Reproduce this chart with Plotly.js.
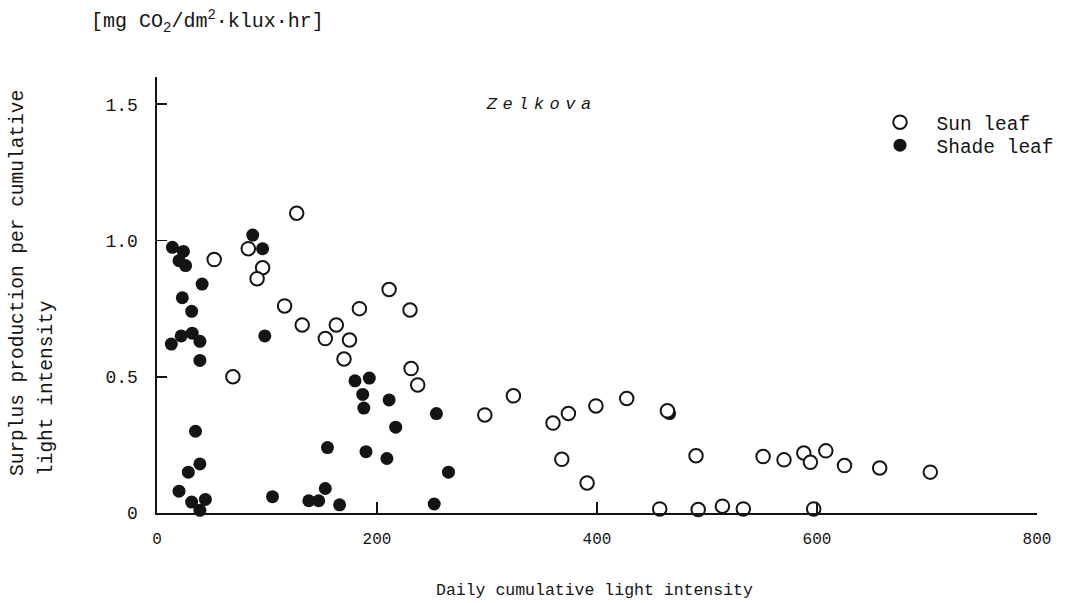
<!DOCTYPE html>
<html>
<head>
<meta charset="utf-8">
<script src="https://cdn.plot.ly/plotly-3.0.1.min.js"></script>
<style>
  html, body { margin: 0; padding: 0; background: #ffffff; }
  #chart { width: 1065px; height: 603px; }
  .annotation[data-index="0"] text.annotation-text { letter-spacing: 5.5px; }
</style>
</head>
<body>
<div id="chart"></div>
<script>
// Sun leaves: daily cumulative light intensity vs. surplus production
const sunX = [127, 52, 83, 96, 91, 69, 116, 132, 153, 163, 170, 211, 184, 230, 175,
              231, 237, 298, 324, 360, 374, 368, 391, 399, 427, 464, 490, 551, 570,
              588, 594, 608, 625, 657, 703, 457, 492, 514, 533, 597];
const sunY = [1.10, 0.93, 0.97, 0.90, 0.86, 0.50, 0.76, 0.69, 0.64, 0.69, 0.565, 0.82,
              0.75, 0.745, 0.635, 0.53, 0.47, 0.36, 0.43, 0.33, 0.365, 0.197, 0.11,
              0.393, 0.42, 0.375, 0.21, 0.207, 0.195, 0.22, 0.186, 0.228, 0.174, 0.165,
              0.15, 0.015, 0.013, 0.025, 0.015, 0.015];

// Shade leaves
const shadeX = [15, 14, 24, 20, 26, 87, 96, 41, 23, 31.5, 13, 22, 32, 39, 39, 98, 35,
                39, 28.5, 20, 31.5, 44, 39, 105, 138, 147, 153, 155, 166, 180, 193, 187,
                188, 211, 254, 217, 190, 209, 265, 252, 466];
const shadeY = [1.61, 0.975, 0.96, 0.926, 0.908, 1.02, 0.97, 0.84, 0.79, 0.74, 0.62,
                0.65, 0.66, 0.63, 0.56, 0.65, 0.30, 0.18, 0.15, 0.08, 0.04, 0.05, 0.01,
                0.06, 0.045, 0.045, 0.09, 0.24, 0.03, 0.485, 0.495, 0.435, 0.385, 0.415,
                0.365, 0.315, 0.225, 0.20, 0.15, 0.033, 0.365];

const xTickVals = [0, 200, 400, 600, 800];
const xTickText = ['0', '200', '400', '600', '800'];
const yTickVals = [0, 0.5, 1.0, 1.5];
const yTickText = ['0', '0.5', '1.0', '1.5'];

const seriesNames = ['Sun leaf', 'Shade leaf'];
const speciesName = 'Zelkova';
const unitLabel = '[mg CO<sub>2</sub>/dm<sup>2</sup>\u00b7klux\u00b7hr]';
const xTitle = 'Daily cumulative light intensity';
const yTitleLines = ['Surplus production per cumulative', 'light intensity'];

// Page geometry of the plotting area (pixels)
const W = 1065, H = 603;
const M = { l: 157, r: 28, t: 77, b: 90, autoexpand: false };
const plotW = W - M.l - M.r, plotH = H - M.t - M.b;
const px = v => (v - M.l) / plotW;          // page x -> paper x
const py = v => (H - M.b - v) / plotH;      // page y -> paper y

const INK = '#141414';
const MONO = 'Liberation Mono, Cousine, monospace';

const legendStyle = top => ({
  x: px(863.5), y: py(top), xanchor: 'left', yanchor: 'top',
  bgcolor: 'rgba(0,0,0,0)', borderwidth: 0,
  font: { family: MONO, size: 19.5, color: INK },
  itemwidth: 63
});

const traces = [
  {
    type: 'scatter', mode: 'markers', name: seriesNames[1],
    x: shadeX, y: shadeY, legend: 'legend2', cliponaxis: false,
    marker: { symbol: 'circle', size: 13, color: INK, line: { width: 0 } }
  },
  {
    type: 'scatter', mode: 'markers', name: seriesNames[0],
    x: sunX, y: sunY, legend: 'legend', cliponaxis: false,
    marker: { symbol: 'circle', size: 13.5, color: '#ffffff', line: { width: 2, color: INK } }
  }
];

const layout = {
  width: W, height: H,
  margin: M,
  paper_bgcolor: '#ffffff', plot_bgcolor: '#ffffff',
  font: { family: MONO, color: INK },
  showlegend: true,
  legend: legendStyle(103),
  legend2: legendStyle(126),
  xaxis: {
    range: [0, 800], showgrid: false, zeroline: false,
    showline: true, linecolor: INK, linewidth: 1.6,
    ticks: 'inside', ticklen: 11, tickwidth: 1.6, tickcolor: INK,
    tickmode: 'array', tickvals: xTickVals, ticktext: xTickText,
    tickfont: { family: MONO, size: 16, color: INK },
    ticklabelstandoff: 10
  },
  yaxis: {
    range: [0, 1.6], showgrid: false, zeroline: false,
    showline: true, linecolor: INK, linewidth: 1.6,
    ticks: 'inside', ticklen: 10, tickwidth: 1.6, tickcolor: INK,
    tickmode: 'array', tickvals: yTickVals, ticktext: yTickText,
    tickfont: { family: MONO, size: 18, color: INK },
    ticklabelstandoff: 14
  },
  annotations: [
    {
      text: '<i>' + speciesName + '</i>', xref: 'paper', yref: 'paper',
      x: px(503), y: py(104), xanchor: 'left', yanchor: 'middle', showarrow: false,
      font: { family: MONO, size: 17, color: INK }
    },
    {
      text: unitLabel, xref: 'paper', yref: 'paper',
      x: px(89), y: py(21), xanchor: 'left', yanchor: 'middle', showarrow: false,
      font: { family: MONO, size: 20, color: INK }
    },
    {
      text: xTitle, xref: 'paper', yref: 'paper',
      x: px(594), y: py(590), xanchor: 'center', yanchor: 'middle', showarrow: false,
      font: { family: MONO, size: 16.5, color: INK }
    },
    {
      text: yTitleLines[0], xref: 'paper', yref: 'paper', textangle: -90,
      x: px(18), y: py(478), xanchor: 'center', yanchor: 'bottom', showarrow: false,
      font: { family: MONO, size: 19.5, color: INK }
    },
    {
      text: yTitleLines[1], xref: 'paper', yref: 'paper', textangle: -90,
      x: px(47), y: py(478), xanchor: 'center', yanchor: 'bottom', showarrow: false,
      font: { family: MONO, size: 19.5, color: INK }
    }
  ]
};

Plotly.newPlot('chart', traces, layout, { staticPlot: true, displayModeBar: false });
</script>
</body>
</html>
